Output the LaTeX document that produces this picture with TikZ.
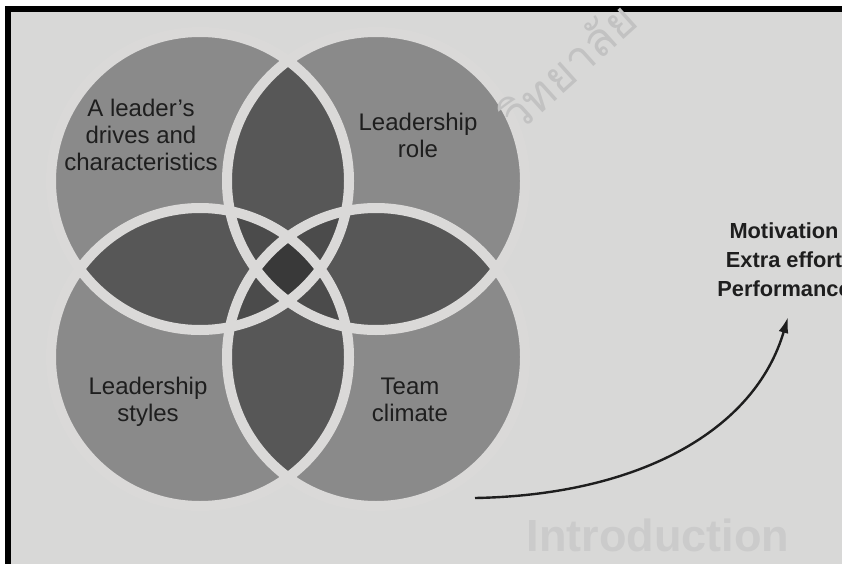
\documentclass[tikz,border=0pt]{standalone}
\usepackage{fontspec}
\setmainfont{Liberation Sans}
\newfontfamily\thaifont[Script=Thai]{Loma}
\usetikzlibrary{arrows.meta}
\definecolor{paper}{HTML}{D8D8D7}
\definecolor{fillone}{HTML}{8A8A8A}
\definecolor{filltwo}{HTML}{575757}
\definecolor{fillthree}{HTML}{4B4B4B}
\definecolor{fillfour}{HTML}{393939}
\definecolor{ringcol}{HTML}{DAD9D8}
\definecolor{ink}{HTML}{1E1E1E}
\definecolor{wmark}{HTML}{C2C2C2}
\definecolor{bleed}{HTML}{CBCBCB}
\begin{document}
\begin{tikzpicture}[x=1pt,y=-1pt,
  circlabel/.style={font=\fontsize{24}{27}\selectfont, text=ink, align=center, anchor=base, inner sep=0pt},
  outcome/.style={font=\bfseries\fontsize{21.8}{29}\selectfont, text=ink, align=center, anchor=base, inner sep=0pt},
  ringline/.style={draw=ringcol, line width=10pt},
  flow/.style={draw=ink, line width=2.4pt, -{Latex[length=16pt,width=10pt]}}]
\useasboundingbox (0,0) rectangle (842,564);
% page and frame
\fill[white] (0,0) rectangle (842,564);
\fill[paper] (11,12.5) rectangle (842,564);
\fill[black] (5,6.5) rectangle (842,12.5);
\fill[black] (5,6.5) rectangle (11,564);
% faint print-through on the page
\node[font=\bfseries\fontsize{45}{45}\selectfont, text=bleed, anchor=base, inner sep=0pt] (bleedtext) at (658,551) {Introduction};
% circles
\def\R{149pt}
\coordinate (tl) at (200,181);
\coordinate (tr) at (376,181);
\coordinate (bl) at (200,357);
\coordinate (br) at (376,357);
\foreach \c in {tl,tr,bl,br} \fill[fillone] (\c) circle[radius=\R];
% pairwise overlaps
\foreach \a/\b in {tl/tr,tl/bl,tl/br,tr/bl,tr/br,bl/br}{
  \begin{scope}
    \clip (\a) circle[radius=\R];
    \fill[filltwo] (\b) circle[radius=\R];
  \end{scope}
}
% triple overlaps
\foreach \a/\b/\c in {tl/tr/bl,tl/tr/br,tl/bl/br,tr/bl/br}{
  \begin{scope}
    \clip (\a) circle[radius=\R];
    \clip (\b) circle[radius=\R];
    \fill[fillthree] (\c) circle[radius=\R];
  \end{scope}
}
% quadruple overlap
\begin{scope}
  \clip (tl) circle[radius=\R];
  \clip (tr) circle[radius=\R];
  \clip (bl) circle[radius=\R];
  \fill[fillfour] (br) circle[radius=\R];
\end{scope}
% rings
\foreach \c in {tl,tr,bl,br} \draw[ringline] (\c) circle[radius=\R];
% library stamp
\node[font=\thaifont\fontsize{46}{46}\selectfont, text=wmark, rotate=42, anchor=west, inner sep=0pt] (wm) at (506,121) {วิทยาลัย};
% labels
\node[circlabel] (drives) at (141,170.7) {A leader’s\\drives and\\characteristics};
\node[circlabel] (role) at (418,157.3) {Leadership\\role};
\node[circlabel] (styles) at (148,421.7) {Leadership\\styles};
\node[circlabel] (climate) at (410,421) {Team\\climate};
\node[outcome] (out) at (784,296) {Motivation\\Extra effort\\Performance};
% arrow
\coordinate (start) at (475,498);
\coordinate (tip) at (788,317);
\draw[flow] (start) .. controls (640,495) and (755,430) .. (tip);
\end{tikzpicture}
\end{document}
